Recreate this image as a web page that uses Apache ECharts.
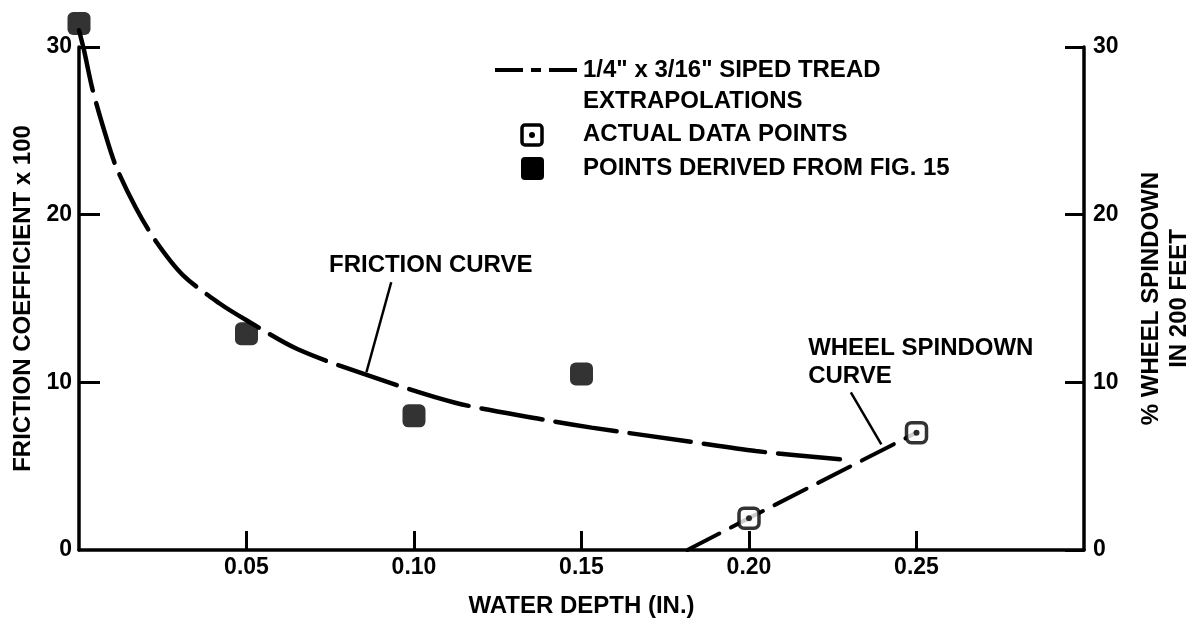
<!DOCTYPE html>
<html>
<head>
<meta charset="utf-8">
<script src="https://cdn.jsdelivr.net/npm/echarts@6/dist/echarts.min.js"></script>
<style>
html,body{margin:0;padding:0;background:#fff;}
#chart{width:1201px;height:623px;}
</style>
</head>
<body>
<div id="chart"></div>
<script>
// ---- data ----
var xTickValues = [0.05, 0.10, 0.15, 0.20, 0.25];
var yTickValues = [0, 10, 20, 30];
var frictionCurveX = [0, 0.0015, 0.004, 0.0074, 0.011, 0.017, 0.023, 0.031, 0.042, 0.050, 0.065, 0.085, 0.112, 0.138, 0.153, 0.181, 0.202, 0.228];
var frictionCurveY = [31.0, 29.8, 27.5, 25.1, 22.9, 20.4, 18.4, 16.4, 14.7, 13.7, 12.0, 10.5, 8.8, 7.8, 7.3, 6.5, 5.9, 5.4];
var derivedX = [0, 0.05, 0.10, 0.15];
var derivedY = [31.4, 12.9, 8.0, 10.5];
var spindownCurveX = [0.1816, 0.20, 0.25];
var spindownCurveY = [0, 1.9, 7.0];
var actualX = [0.20, 0.25];
var actualY = [1.9, 7.0];
// annotation anchors (data space)
var frictionLabelAt = [0.105, 17.0];
var frictionArrow = [[0.0932, 15.97], [0.0858, 10.6]];
var spindownLabelAt = [0.2175, 11.2];
var spindownArrow = [[0.2304, 9.4], [0.2395, 6.3]];

function zip(a, b) { return a.map(function (v, i) { return [v, b[i]]; }); }

var FONT = "'Liberation Sans', 'DejaVu Sans', sans-serif";
var textBase = { fontFamily: FONT, fontWeight: 'bold', color: '#000' };

var chart = echarts.init(document.getElementById('chart'), null, { renderer: 'canvas' });

var axisLineStyle = { color: '#000', width: 3.5 };

var option = {
  animation: false,
  backgroundColor: '#fff',
  grid: { left: 79, right: 104, top: 47, bottom: 66, containLabel: false },
  xAxis: {
    type: 'value', min: 0, max: 0.30, interval: 0.05,
    name: 'WATER DEPTH (IN.)', nameLocation: 'middle', nameGap: 44,
    nameTextStyle: Object.assign({ fontSize: 24 }, textBase),
    axisLine: { show: true, lineStyle: axisLineStyle },
    axisTick: { show: true, inside: true, length: 19, lineStyle: { color: '#000', width: 3 }, customValues: xTickValues },
    axisLabel: Object.assign({ fontSize: 23, margin: 6, customValues: xTickValues,
      formatter: function (v) { return v.toFixed(2); } }, textBase),
    splitLine: { show: false }
  },
  yAxis: [{
    type: 'value', min: 0, max: 30, interval: 10, position: 'left',
    name: 'FRICTION COEFFICIENT x 100', nameLocation: 'middle', nameGap: 43, nameRotate: 90,
    nameTextStyle: Object.assign({ fontSize: 24 }, textBase),
    axisLine: { show: true, lineStyle: axisLineStyle },
    axisTick: { show: true, inside: true, length: 21, lineStyle: { color: '#000', width: 3 }, customValues: [10, 20, 30] },
    axisLabel: Object.assign({ fontSize: 23, margin: 7, customValues: yTickValues }, textBase),
    splitLine: { show: false }
  }, {
    type: 'value', min: 0, max: 30, interval: 10, position: 'right',
    name: '% WHEEL SPINDOWN\nIN 200 FEET', nameLocation: 'middle', nameGap: 53, nameRotate: 90,
    nameTextStyle: Object.assign({ fontSize: 24, lineHeight: 28, align: 'center' }, textBase),
    axisLine: { show: true, lineStyle: axisLineStyle },
    axisTick: { show: true, inside: true, length: 19, lineStyle: { color: '#000', width: 3 }, customValues: yTickValues },
    axisLabel: Object.assign({ fontSize: 23, margin: 9, customValues: yTickValues }, textBase),
    splitLine: { show: false }
  }],
  series: [{
    name: 'Friction curve', type: 'line', yAxisIndex: 0,
    data: zip(frictionCurveX, frictionCurveY),
    smooth: 0.3, showSymbol: false, symbol: 'none', clip: false, z: 2,
    lineStyle: { color: '#000', width: 4.5, type: [62, 13], cap: 'round' },
    markPoint: {
      symbol: 'circle', symbolSize: 1, itemStyle: { color: 'rgba(0,0,0,0)' },
      label: Object.assign({ show: true, position: 'inside', fontSize: 24 }, textBase),
      data: [{ coord: frictionLabelAt, value: 'FRICTION CURVE', label: { formatter: 'FRICTION CURVE' } }]
    },
    markLine: {
      silent: true, symbol: ['none', 'arrow'], symbolSize: [0, 13],
      label: { show: false },
      lineStyle: { color: '#000', width: 2.5, type: 'solid' },
      data: [[{ coord: frictionArrow[0] }, { coord: frictionArrow[1] }]]
    }
  }, {
    name: 'Wheel spindown curve', type: 'line', yAxisIndex: 1,
    data: zip(spindownCurveX, spindownCurveY),
    showSymbol: false, symbol: 'none', clip: false, z: 2,
    lineStyle: { color: '#000', width: 4, type: [36, 13], cap: 'round' },
    markPoint: {
      symbol: 'circle', symbolSize: 1, itemStyle: { color: 'rgba(0,0,0,0)' },
      label: Object.assign({ show: true, position: 'right', distance: 0, align: 'left', fontSize: 24, lineHeight: 28 }, textBase),
      data: [{ coord: spindownLabelAt, value: 'x', label: { formatter: 'WHEEL SPINDOWN\nCURVE' } }]
    },
    markLine: {
      silent: true, symbol: ['none', 'arrow'], symbolSize: [0, 13],
      label: { show: false },
      lineStyle: { color: '#000', width: 2.5, type: 'solid' },
      data: [[{ coord: spindownArrow[0] }, { coord: spindownArrow[1] }]]
    }
  }, {
    name: 'Points derived from Fig. 15', type: 'scatter', yAxisIndex: 0,
    data: zip(derivedX, derivedY), clip: false, z: 4,
    symbol: 'roundRect', symbolSize: 23,
    itemStyle: { color: '#000' }
  }, {
    name: 'Actual data points', type: 'scatter', yAxisIndex: 1,
    data: zip(actualX, actualY), clip: false, z: 4,
    symbol: 'roundRect', symbolSize: 20,
    itemStyle: { color: '#fff', borderColor: '#000', borderWidth: 3.5 }
  }, {
    name: 'Actual data points dot', type: 'scatter', yAxisIndex: 1,
    data: zip(actualX, actualY), clip: false, z: 5,
    symbol: 'circle', symbolSize: 6,
    itemStyle: { color: '#000' }
  }],
  graphic: [
    { type: 'line', shape: { x1: 495, y1: 70, x2: 577, y2: 70 },
      style: { stroke: '#000', lineWidth: 4, lineDash: [28, 8, 10, 8] } },
    { type: 'text', x: 583, y: 70, style: { text: '1/4" x 3/16" SIPED TREAD', font: 'bold 24px ' + FONT, fill: '#000', verticalAlign: 'middle' } },
    { type: 'text', x: 583, y: 101, style: { text: 'EXTRAPOLATIONS', font: 'bold 24px ' + FONT, fill: '#000', verticalAlign: 'middle' } },
    { type: 'rect', shape: { x: 522, y: 125, width: 20, height: 20, r: 3 },
      style: { fill: '#fff', stroke: '#000', lineWidth: 3.5 } },
    { type: 'circle', shape: { cx: 532, cy: 135, r: 3 }, style: { fill: '#000' } },
    { type: 'text', x: 583, y: 134, style: { text: 'ACTUAL DATA POINTS', font: 'bold 24px ' + FONT, fill: '#000', verticalAlign: 'middle' } },
    { type: 'rect', shape: { x: 521, y: 157, width: 23, height: 23, r: 4 }, style: { fill: '#000' } },
    { type: 'text', x: 583, y: 168, style: { text: 'POINTS DERIVED FROM FIG. 15', font: 'bold 24px ' + FONT, fill: '#000', verticalAlign: 'middle' } }
  ]
};
chart.setOption(option);
</script>
</body>
</html>
